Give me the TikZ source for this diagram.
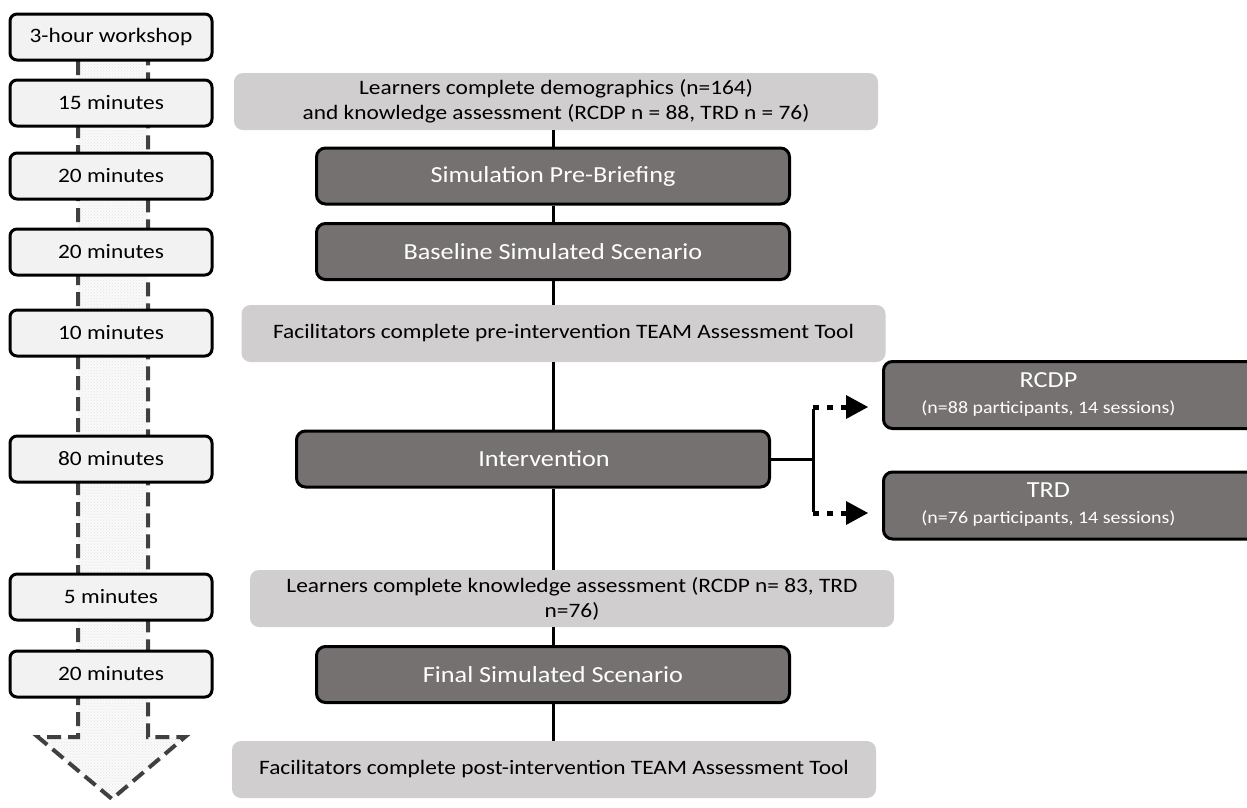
\documentclass[tikz,border=0pt]{standalone}
\usepackage{fontspec}
\setmainfont{Carlito}[FakeStretch=1.14]
\usetikzlibrary{arrows.meta,patterns}
\definecolor{lbox}{HTML}{F2F2F2}
\definecolor{mbox}{HTML}{D0CECE}
\definecolor{dbox}{HTML}{767171}
\definecolor{dashcol}{HTML}{404040}
\begin{document}
\begin{tikzpicture}[x=1pt,y=-1pt,
  timebox/.style={draw=black,line width=3pt,fill=lbox,rounded corners=7pt,minimum width=202pt,minimum height=46pt,inner sep=0pt,font=\fontsize{20.5}{24}\selectfont},
  lightbox/.style={fill=mbox,rounded corners=9pt,minimum width=644pt,minimum height=57pt,inner sep=0pt,align=center,font=\fontsize{20.5}{25}\selectfont},
  darkbox/.style={draw=black,line width=3pt,fill=dbox,rounded corners=9pt,minimum width=473pt,minimum height=56pt,inner sep=0pt,align=center,text=white,font=\fontsize{23}{27}\selectfont},
  sidebox/.style={draw=black,line width=3pt,fill=dbox,rounded corners=9pt,minimum width=380pt,minimum height=67pt,inner sep=0pt,text=white,anchor=west,font=\fontsize{17.5}{26}\selectfont},
  conn/.style={draw=black,line width=3pt},
  branch/.style={draw=black,line width=5pt,dash pattern=on 6pt off 8pt,-{Triangle[length=22pt,width=24pt,line width=0pt]},shorten >=14pt},
  outline/.style={draw=dashcol,line width=4pt,dash pattern=on 14pt off 7pt}
]
\useasboundingbox (0,0) rectangle (1247,807);
\clip (0,0) rectangle (1247,807);
% time arrow
\fill[gray!4] (78,40) -- (78,737) -- (38,737) -- (112,799) -- (185,737) -- (148,737) -- (148,40) -- cycle;
\fill[pattern=crosshatch dots,pattern color=gray!22] (78,40) -- (78,737) -- (38,737) -- (112,799) -- (185,737) -- (148,737) -- (148,40) -- cycle;
\draw[outline] (78,40) -- (78,737) -- (38,737) -- (112,799) -- (185,737) -- (148,737) -- (148,40);
% time boxes
\node[timebox] (w) at (111,37) {3-hour workshop};
\node[timebox] (t1) at (111,103) {15 minutes};
\node[timebox] (t2) at (111,176) {20 minutes};
\node[timebox] (t3) at (111,252) {20 minutes};
\node[timebox] (t4) at (111,333) {10 minutes};
\node[timebox] (t5) at (111,459) {80 minutes};
\node[timebox] (t6) at (111,597) {5 minutes};
\node[timebox] (t7) at (111,674) {20 minutes};
% main flow
\node[lightbox] (l1) at (556,101.5) {Learners complete demographics (n=164)\\and knowledge assessment (RCDP n = 88, TRD n = 76)};
\node[darkbox] (pb) at (553,176) {Simulation Pre-Briefing};
\node[darkbox] (bs) at (553,251.5) {Baseline Simulated Scenario};
\node[lightbox] (fpre) at (563.5,333.5) {Facilitators complete pre-intervention TEAM Assessment Tool};
\node[darkbox] (int) at (533,459) {\hspace*{22pt}Intervention};
\node[lightbox] (lk) at (572,598.5) {Learners complete knowledge assessment (RCDP n= 83, TRD\\n=76)};
\node[darkbox] (fs) at (553,674.5) {Final Simulated Scenario};
\node[lightbox] (fpost) at (554,769.5) {Facilitators complete post-intervention TEAM Assessment Tool};
\node[sidebox] (rcdp) at (882,395) {\begin{tabular}{@{}c@{}}{\fontsize{23}{26}\selectfont RCDP}\\(n=88 participants, 14 sessions)\end{tabular}\hspace*{50pt}};
\node[sidebox] (trd) at (882,505.5) {\begin{tabular}{@{}c@{}}{\fontsize{23}{26}\selectfont TRD}\\(n=76 participants, 14 sessions)\end{tabular}\hspace*{50pt}};
% connectors
\draw[conn] (l1.south -| pb.north) -- (pb.north);
\draw[conn] (pb.south) -- (bs.north);
\draw[conn] (bs.south) -- (fpre.north -| bs.south);
\draw[conn] (fpre.south -| bs.south) -- (int.north -| bs.south);
\draw[conn] (int.south -| bs.south) -- (lk.north -| bs.south);
\draw[conn] (lk.south -| bs.south) -- (fs.north);
\draw[conn] (fs.south) -- (fpost.north -| fs.south);
\coordinate (bj) at (813,459);
\coordinate (bu) at (813,407);
\coordinate (bd) at (813,513);
\draw[conn] (int.east) -- (bj);
\draw[conn] ([yshift=-1.5pt]bu) -- ([yshift=1.5pt]bd);
\draw[branch] (bu) -- (rcdp.west |- bu);
\draw[branch] (bd) -- (trd.west |- bd);
\end{tikzpicture}
\end{document}
